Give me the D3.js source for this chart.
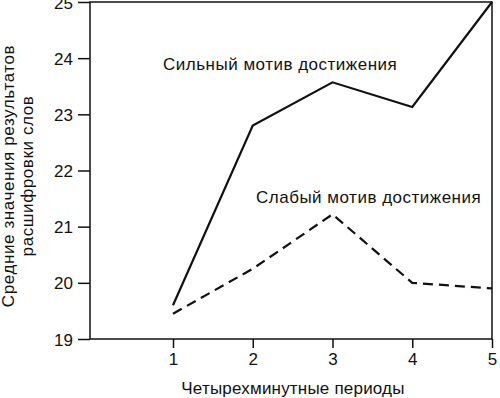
<!DOCTYPE html>
<meta charset="utf-8">
<style>
  body { margin: 0; background: #fff; }
  text { font-family: "Liberation Sans", Arial, sans-serif; fill: #111; }
</style>
<svg width="500" height="398"></svg>
<script src="https://d3js.org/d3.v7.min.js"></script>
<script>

var periods = [1, 2, 3, 4, 5];
var strongValues = [19.6, 22.8, 23.57, 23.13, 25.0];
var weakValues = [19.45, 20.25, 21.22, 20.0, 19.9];
var yTicks = [19, 20, 21, 22, 23, 24, 25];
var strongLabel = "Сильный мотив достижения";
var weakLabel = "Слабый мотив достижения";
var xTitle = "Четырехминутные периоды";
var yTitle = ["Средние значения результатов", "расшифровки слов"];

var svg = d3.select("svg");

var plotLeft = 90, plotRight = 492, plotTop = 2, plotBottom = 339;

var x = d3.scaleLinear().domain([1, 5]).range([173, 492]);
var y = d3.scaleLinear().domain([19, 25]).range([plotBottom, plotTop]);

var ink = "#111";
var fontSize = "17px";
var spacing = "0.5px";

// frame
svg.append("rect")
    .attr("x", plotLeft).attr("y", plotTop)
    .attr("width", plotRight - plotLeft).attr("height", plotBottom - plotTop)
    .attr("fill", "none")
    .attr("stroke", ink)
    .attr("stroke-width", 1.5);

// y axis
var yAxis = svg.append("g")
    .attr("transform", "translate(" + plotLeft + ",0)")
    .call(d3.axisLeft(y).tickValues(yTicks).tickSize(12).tickPadding(5).tickFormat(d3.format("d")));
yAxis.select(".domain").remove();
yAxis.selectAll("line").attr("stroke", ink).attr("stroke-width", 1.5);
yAxis.selectAll("text")
    .style("font-size", fontSize)
    .attr("font-family", null)
    .attr("fill", ink)
    .attr("dy", "0.36em");

// x axis
var xAxis = svg.append("g")
    .attr("transform", "translate(0," + plotBottom + ")")
    .call(d3.axisBottom(x).tickValues(periods).tickSize(9).tickPadding(5).tickFormat(d3.format("d")));
xAxis.select(".domain").remove();
xAxis.selectAll("line").attr("stroke", ink).attr("stroke-width", 1.5);
xAxis.selectAll("text")
    .style("font-size", fontSize)
    .attr("font-family", null)
    .attr("fill", ink);

var line = d3.line()
    .x(function(d, i) { return x(periods[i]); })
    .y(function(d) { return y(d); });

svg.append("path")
    .datum(strongValues)
    .attr("d", line)
    .attr("fill", "none")
    .attr("stroke", ink)
    .attr("stroke-width", 2.2)
    .attr("stroke-linejoin", "miter");

svg.append("path")
    .datum(weakValues)
    .attr("d", line)
    .attr("fill", "none")
    .attr("stroke", ink)
    .attr("stroke-width", 2.2)
    .attr("stroke-dasharray", "10,6");

// series labels
svg.append("text")
    .attr("x", 163).attr("y", 70)
    .style("font-size", fontSize)
    .style("letter-spacing", spacing)
    .text(strongLabel);

svg.append("text")
    .attr("x", 256).attr("y", 203)
    .style("font-size", fontSize)
    .style("letter-spacing", spacing)
    .text(weakLabel);

// axis titles
svg.append("text")
    .attr("x", 293).attr("y", 394)
    .attr("text-anchor", "middle")
    .style("font-size", fontSize)
    .style("letter-spacing", "0.2px")
    .text(xTitle);

svg.selectAll(".ytitle")
    .data(yTitle)
    .enter().append("text")
    .attr("class", "ytitle")
    .attr("transform", function(d, i) { return "translate(" + (14 + i * 19) + ",176) rotate(-90)"; })
    .attr("text-anchor", "middle")
    .style("font-size", fontSize)
    .style("letter-spacing", "0.6px")
    .text(function(d) { return d; });

</script>
